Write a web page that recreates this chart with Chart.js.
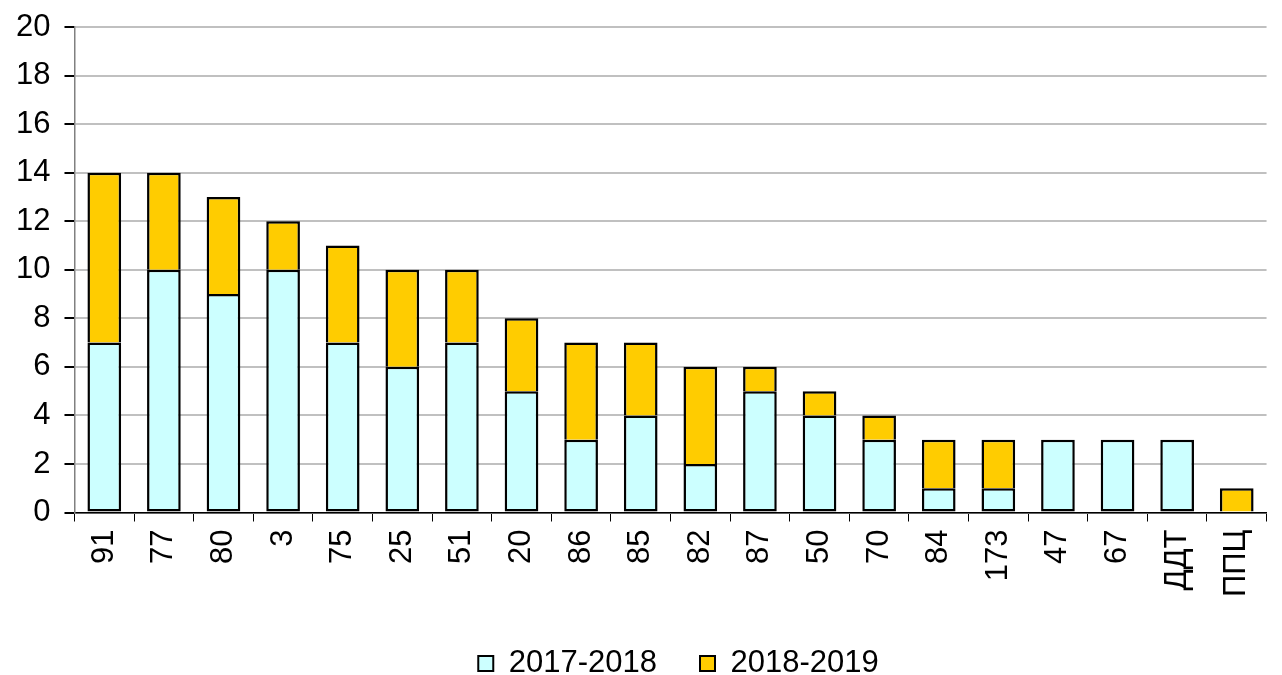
<!DOCTYPE html>
<html>
<head>
<meta charset="utf-8">
<script src="https://cdn.jsdelivr.net/npm/chart.js@4"></script>
<style>
  html, body { margin: 0; padding: 0; background: #fff; }
  #wrap { width: 1282px; height: 675px; }
</style>
</head>
<body>
<div id="wrap"><canvas id="chart"></canvas></div>
<script>
// categories along the x axis
const categories = ["91", "77", "80", "3", "75", "25", "51", "20", "86", "85", "82", "87", "50", "70", "84", "173", "47", "67", "ДДТ", "ППЦ"]

// values per season (stacked)
const season2017 = [7, 10, 9, 10, 7, 6, 7, 5, 3, 4, 2, 5, 4, 3, 1, 1, 3, 3, 3, 0]
const season2018 = [7, 4, 4, 2, 4, 4, 3, 3, 4, 3, 4, 1, 1, 1, 2, 2, 0, 0, 0, 1]

const seriesNames = ["2017-2018", "2018-2019"]
const yTicks = [0, 2, 4, 6, 8, 10, 12, 14, 16, 18, 20]

Chart.defaults.font.family = "'Liberation Sans', Arial, sans-serif"
Chart.defaults.color = "#000"

// the legend sits centred under the plot area, not the whole canvas
const legendShift = {
    id: 'legendShift',
    afterLayout(chart) {
        const lg = chart.legend
        const off = (chart.chartArea.left + chart.chartArea.right) / 2 - (lg.left + lg.right) / 2 + 8
        lg.left += off
        lg.right += off
    }
}

const ctx = document.getElementById('chart')
new Chart(ctx, {
    type: 'bar',
    data: {
        labels: categories,
        datasets: [
            {
                label: seriesNames[0],
                data: season2017,
                backgroundColor: '#ccffff',
                borderColor: '#000',
                borderWidth: 2.5,
                borderSkipped: false,
                barPercentage: 0.565,
                categoryPercentage: 1
            },
            {
                label: seriesNames[1],
                data: season2018,
                backgroundColor: '#ffcc00',
                borderColor: '#000',
                borderWidth: 2.5,
                borderSkipped: 'start',
                barPercentage: 0.565,
                categoryPercentage: 1
            }
        ]
    },
    plugins: [legendShift],
    options: {
        responsive: true,
        maintainAspectRatio: false,
        animation: false,
        layout: {
            padding: { left: 2, right: 2, top: 27, bottom: -14 }
        },
        plugins: {
            tooltip: { enabled: false },
            legend: {
                position: 'bottom',
                labels: {
                    boxWidth: 15,
                    boxHeight: 15,
                    padding: 43,
                    font: { size: 31 },
                    generateLabels: chart => chart.data.datasets.map((ds, i) => ({
                        text: ds.label,
                        fillStyle: ds.backgroundColor,
                        strokeStyle: '#000',
                        lineWidth: 2,
                        datasetIndex: i
                    }))
                }
            }
        },
        scales: {
            x: {
                stacked: true,
                grid: {
                    drawOnChartArea: false,
                    drawTicks: true,
                    tickLength: 9,
                    color: '#000'
                },
                border: { color: '#000', width: 1.5 },
                ticks: {
                    minRotation: 90,
                    maxRotation: 90,
                    autoSkip: false,
                    padding: 8,
                    font: { size: 31 }
                }
            },
            y: {
                stacked: true,
                min: 0,
                max: 20,
                afterBuildTicks: axis => { axis.ticks = yTicks.map(v => ({ value: v })) },
                afterFit: axis => { axis.paddingTop = 0 },
                grid: {
                    color: '#c0c0c0',
                    lineWidth: 2,
                    tickColor: '#000',
                    tickLength: 10
                },
                border: { color: '#808080', width: 1.5 },
                ticks: {
                    padding: 14,
                    font: { size: 31 }
                }
            }
        }
    }
})
</script>
</body>
</html>
